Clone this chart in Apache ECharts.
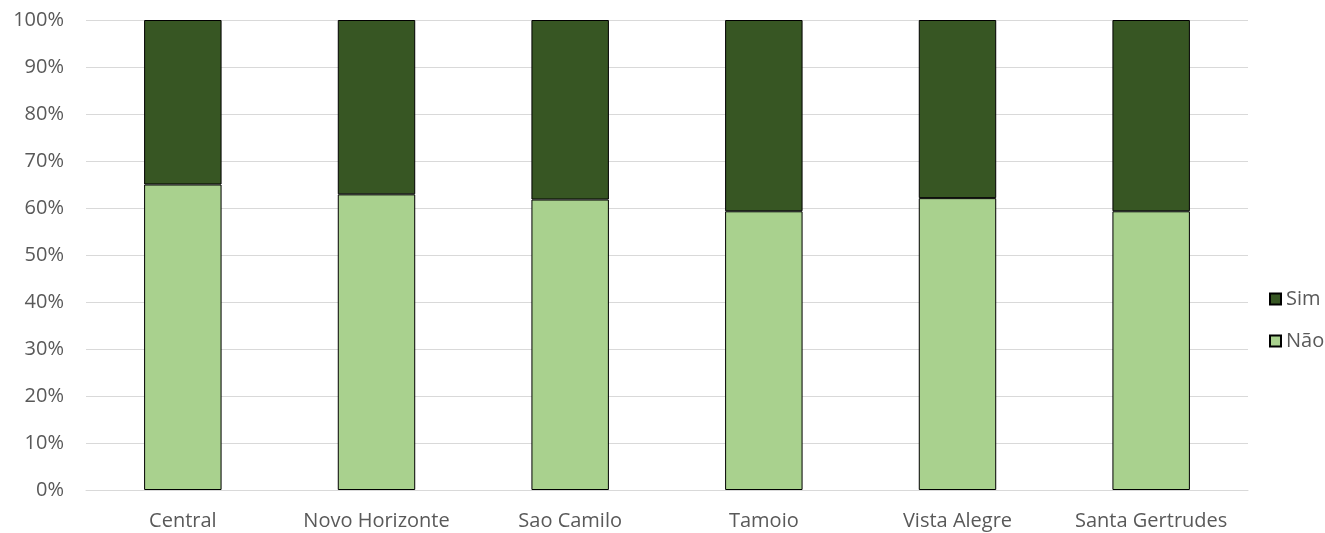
<!DOCTYPE html>
<html>
<head>
<meta charset="utf-8">
<script src="https://cdn.jsdelivr.net/npm/echarts@6/dist/echarts.min.js"></script>
<style>
  html, body { margin: 0; padding: 0; background: #fff; }
  #chart { width: 1325px; height: 533px; }
</style>
</head>
<body>
<div id="chart"></div>
<script>
// bairros
const categories = ['Central', 'Novo Horizonte', 'Sao Camilo', 'Tamoio', 'Vista Alegre', 'Santa Gertrudes'];
// percentuais
const naoValues = [65.0, 62.9, 61.8, 59.3, 62.1, 59.3];
const simValues = [35.0, 37.1, 38.2, 40.7, 37.9, 40.7];
const yTicks = [0, 10, 20, 30, 40, 50, 60, 70, 80, 90, 100];

const font = 'Open Sans';
const textColor = '#595959';

const myChart = echarts.init(document.getElementById('chart'));
const option = {
  animation: false,
  textStyle: { fontFamily: font },
  grid: { left: 86, right: 77, top: 20, bottom: 43 },
  legend: {
    orient: 'vertical',
    left: 1264,
    top: 284,
    itemGap: 22,
    itemWidth: 11,
    itemHeight: 11,
    icon: 'rect',
    data: ['Sim', 'Não'],
    textStyle: { color: textColor, fontSize: 20, fontFamily: font }
  },
  xAxis: {
    type: 'category',
    data: categories,
    axisLine: { lineStyle: { color: '#d9d9d9' } },
    axisTick: { show: false },
    axisLabel: { color: textColor, fontSize: 20, margin: 21, interval: 0 }
  },
  yAxis: {
    type: 'value',
    min: yTicks[0],
    max: yTicks[yTicks.length - 1],
    interval: 10,
    axisLine: { show: false },
    axisTick: { show: false },
    splitLine: { lineStyle: { color: '#d9d9d9' } },
    axisLabel: { color: textColor, fontSize: 20, margin: 22, formatter: '{value}%' }
  },
  series: [
    {
      name: 'Não',
      type: 'bar',
      stack: 'total',
      barWidth: '40%',
      data: naoValues,
      itemStyle: { color: '#a9d18e', borderColor: '#000', borderWidth: 1 }
    },
    {
      name: 'Sim',
      type: 'bar',
      stack: 'total',
      barWidth: '40%',
      data: simValues,
      itemStyle: { color: '#375623', borderColor: '#000', borderWidth: 1 }
    }
  ]
};
myChart.setOption(option);
</script>
</body>
</html>
